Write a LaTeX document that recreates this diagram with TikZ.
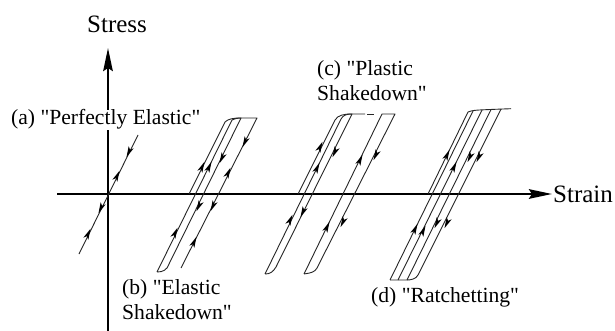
\documentclass[tikz,border=0pt]{standalone}
\usepackage{fontspec}
\newfontfamily\lblfont{Liberation Serif}
\usetikzlibrary{arrows.meta}
\tikzset{
  curve/.style={line width=0.9pt,black!85,line join=round},
  axis/.style={line width=2.4pt,-{Stealth[length=23pt,width=9.5pt,inset=3pt]}},
  lbl/.style={anchor=base west,inner sep=0pt,font=\lblfont\fontsize{21.6}{24}\selectfont},
  axlbl/.style={anchor=base west,inner sep=0pt,font=\lblfont\fontsize{25}{27}\selectfont}
}
\newcommand{\tipup}[2]{\fill[shift={(#1,#2)}] (2.5,-5.2) -- (-4.6,3.6) -- (-1.1,2.2) -- (0.3,5.8) -- cycle;}
\newcommand{\tipdn}[2]{\fill[shift={(#1,#2)}] (-2.5,5.2) -- (4.6,-3.6) -- (1.1,-2.2) -- (-0.3,-5.8) -- cycle;}
\begin{document}
\begin{tikzpicture}[x=1pt,y=-1pt]
\useasboundingbox (0,0) rectangle (615,331);
\fill[white] (0,0) rectangle (615,331);
% axes
\coordinate (vb) at (108,331); \coordinate (vt) at (108,48);
\coordinate (hl) at (57,194); \coordinate (hr) at (552,194);
\draw[axis] (vb) -- (vt);
\draw[axis] (hl) -- (hr);
% (a)
\draw[curve] (79,254) -- (138,135);
\tipup{88}{234}\tipdn{101}{208}\tipup{117}{176}\tipdn{129}{152}
% (b)
\draw[curve] (189,194) -- (225,122) .. controls (228,119) and (233,118) .. (241,118) -- (257,118) -- (181,268);
\draw[curve] (157,272) -- (232,120) .. controls (234,119) and (237,118) .. (241,118) -- (169,264) .. controls (167,270) and (163,272) .. (157,272);
\tipup{202}{167}\tipup{209}{167}\tipdn{222}{158}\tipdn{245}{142}\tipup{228}{173}
\tipup{175}{233}\tipdn{199}{206}\tipdn{213}{206}\tipup{194}{242}
% (c)
\draw[curve] (298,194) -- (335,120) .. controls (338,115) and (344,114) .. (352,114) -- (365,114);
\draw[curve] (367,114) -- (374,114);
\draw[curve] (265,274) -- (341,119) .. controls (343,115) and (347,114) .. (352,114) -- (276,267) .. controls (273,272) and (270,274) .. (265,274);
\draw[curve] (304,274) -- (382,114) -- (395,114) -- (317,268) .. controls (315,272) and (311,273) .. (304,274);
\tipup{320}{147}\tipup{317}{168}\tipdn{335}{152}\tipup{360}{160}\tipdn{376}{155}
\tipup{290}{220}\tipdn{303}{212}\tipup{327}{227}\tipdn{343}{222}
% (d)
\draw[curve] (428,194) -- (468,112) .. controls (472,110) and (480,110) .. (490,109.5) -- (511,108.7);
\draw[curve] (390,280) -- (473,111);
\draw[curve] (398,280) -- (482,110);
\draw[curve] (390,280) -- (407,280) -- (491,109.5);
\draw[curve] (407,280) .. controls (411,280) and (416,279) .. (418,275) -- (501,109);
\tipup{447}{155}\tipup{454}{167}\tipdn{470}{157}\tipdn{479}{157}
\tipup{415}{229}\tipup{423}{231}\tipdn{437}{223}\tipdn{447}{223}
% labels
\node[axlbl] (stress) at (87,33) {Stress};
\node[axlbl] (strain) at (553,202) {Strain};
\node[lbl,fill=white] (la) at (11,125) {(a) "Perfectly Elastic"};
\node[lbl] (lb1) at (122,294) {(b) "Elastic};
\node[lbl] (lb2) at (122,319) {Shakedown"};
\node[lbl] (lc1) at (317,76) {(c) "Plastic};
\node[lbl] (lc2) at (317,101) {Shakedown"};
\node[lbl] (ld) at (371,302) {(d) "Ratchetting"};
\end{tikzpicture}
\end{document}
